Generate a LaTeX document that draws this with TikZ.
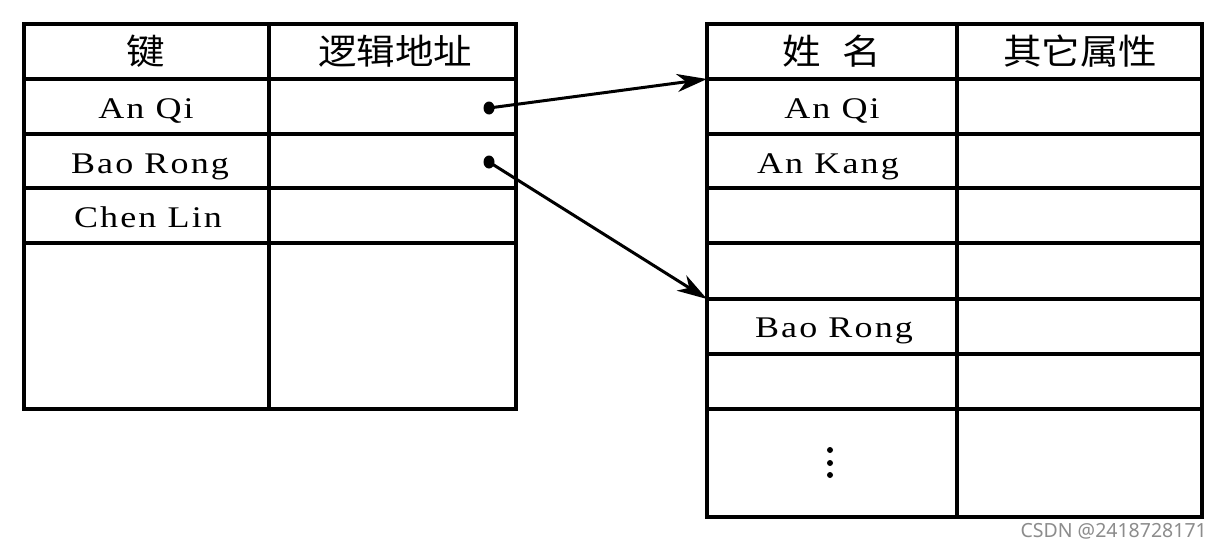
\documentclass[tikz,border=0pt]{standalone}
\usepackage{fontspec}
\usepackage{graphicx}
\setmainfont{Liberation Serif}
\newfontfamily\cjk{Noto Sans CJK SC}
\newfontfamily\wmfont{Noto Sans}
\newfontfamily\lsfont[LetterSpace=6]{Liberation Serif}
\newcommand{\hstretch}[2]{\scalebox{#1}[1]{#2}}
\usetikzlibrary{arrows.meta,shapes.geometric}
\begin{document}
\begin{tikzpicture}[x=1pt,y=-1pt,
  grid/.style={line width=3.2pt,line cap=rect},
  cell/.style={font=\lsfont\fontsize{30}{30}\selectfont,anchor=base,inner sep=0},
  head/.style={font=\cjk\fontsize{35}{35}\selectfont,inner sep=0},
  ptr/.style={line width=3pt,-{Stealth[length=30pt,width=18pt,inset=9pt]}},
  dotnode/.style={fill,ellipse,minimum width=11pt,minimum height=13pt,inner sep=0},
  vdot/.style={fill,circle,minimum size=6pt,inner sep=0},
  wm/.style={font=\wmfont\fontsize{19.5}{19.5}\selectfont,text=black!45,anchor=base east,inner sep=0}]
\useasboundingbox (0,0) rectangle (1225,546);
\fill[white] (0,0) rectangle (1225,546);
% left table
\draw[grid] (24,24) rectangle (516,409);
\draw[grid] (269,24) -- (269,409);
\foreach \yy in {79,134,188,243} \draw[grid] (24,\yy) -- (516,\yy);
% right table
\draw[grid] (707,24) rectangle (1202,517);
\draw[grid] (957,24) -- (957,517);
\foreach \yy in {79,134,188,243,299,354,409} \draw[grid] (707,\yy) -- (1202,\yy);
% headings
\node[head] (hkey) at (146,51) {\hstretch{1.1}{键}};
\node[head] (haddr) at (395,51) {\hstretch{1.1}{逻辑地址}};
\node[head] (hname) at (832,51) {\hstretch{1.1}{姓\hspace{0.55em}名}};
\node[head] (hattr) at (1080,51) {\hstretch{1.1}{其它属性}};
% left cells
\node[cell] (lk1) at (146,118) {\hstretch{1.2}{An Qi}};
\node[cell] (lk2) at (150,173) {\hstretch{1.2}{Bao Rong}};
\node[cell] (lk3) at (148,227) {\hstretch{1.2}{Chen Lin}};
% right cells
\node[cell] (rn1) at (832,118) {\hstretch{1.2}{An Qi}};
\node[cell] (rn2) at (828,173) {\hstretch{1.2}{An Kang}};
\node[cell] (rn5) at (834,337) {\hstretch{1.2}{Bao Rong}};
\node[vdot] (vd1) at (830,450) {};
\node[vdot] (vd2) at (830,463) {};
\node[vdot] (vd3) at (830,475) {};
% pointers
\node[dotnode] (p1) at (489,108) {};
\node[dotnode] (p2) at (489,162) {};
\coordinate (t1) at (707,79);
\coordinate (t2) at (707,299);
\draw[ptr] (p1.center) -- (t1);
\draw[ptr] (p2.center) -- (t2);
% watermark
\node[wm] (wmark) at (1207,537) {CSDN @2418728171};
\end{tikzpicture}
\end{document}
